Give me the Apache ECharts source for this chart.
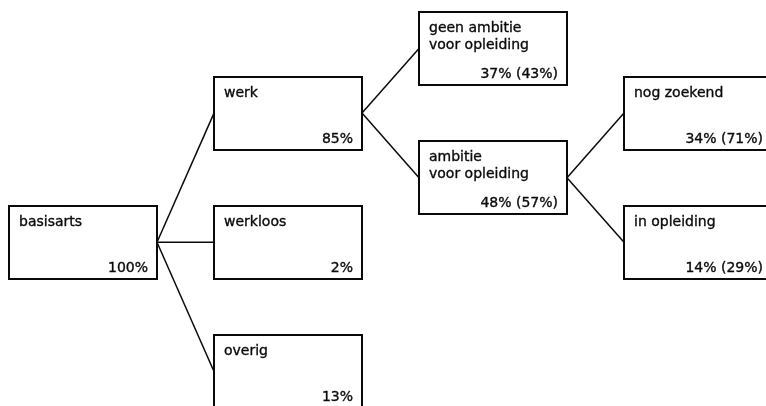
<!DOCTYPE html>
<html>
<head>
<meta charset="utf-8">
<script src="https://cdn.jsdelivr.net/npm/echarts@6/dist/echarts.min.js"></script>
<style>
html,body{margin:0;padding:0;background:#fff;}
#chart{width:766px;height:406px;}
</style>
</head>
<body>
<div id="chart"></div>
<script>
// Tree nodes
const nodeNames = ['basisarts', 'werk', 'werkloos', 'overig',
  'geen ambitie\nvoor opleiding', 'ambitie\nvoor opleiding', 'nog zoekend', 'in opleiding'];
const nodeShares = ['100%', '85%', '2%', '13%', '37% (43%)', '48% (57%)', '34% (71%)', '14% (29%)'];
const nodeParents = [-1, 0, 0, 0, 1, 1, 5, 5];
// vertical slot of each node (category rows of the diagram)
const nodeRows = [3, 1, 3, 5, 0, 2, 1, 3];

function depth(i) { return nodeParents[i] < 0 ? 0 : depth(nodeParents[i]) + 1; }
const nodeLevels = nodeNames.map((_, i) => depth(i));

const boxData = nodeNames.map((n, i) => [nodeLevels[i], nodeRows[i], i]);
const edgeData = [];
nodeParents.forEach((p, i) => {
  if (p >= 0) edgeData.push([nodeLevels[p], nodeRows[p], nodeLevels[i], nodeRows[i]]);
});

const BW = 148, BH = 73;
const INK = '#0a0a0a';
const FONT = '"DejaVu Sans", sans-serif';

const chart = echarts.init(document.getElementById('chart'), null, {renderer: 'canvas'});
chart.setOption({
  backgroundColor: '#fff',
  animation: false,
  grid: {left: 83, right: 68, top: 48.5, bottom: 34.5},
  xAxis: {type: 'value', min: 0, max: 3, show: false},
  yAxis: {type: 'value', min: 0, max: 5, inverse: true, show: false},
  series: [
    {
      type: 'custom',
      clip: false,
      data: edgeData,
      renderItem: function (params, api) {
        const a = api.coord([api.value(0), api.value(1)]);
        const b = api.coord([api.value(2), api.value(3)]);
        return {
          type: 'line',
          shape: {x1: a[0] + BW / 2, y1: a[1], x2: b[0] - BW / 2, y2: b[1]},
          style: {stroke: INK, lineWidth: 1.5}
        };
      }
    },
    {
      type: 'custom',
      clip: false,
      data: boxData,
      renderItem: function (params, api) {
        const c = api.coord([api.value(0), api.value(1)]);
        const i = api.value(2);
        const x = Math.round(c[0] - BW / 2), y = Math.round(c[1] - BH / 2);
        return {
          type: 'group',
          children: [
            {type: 'rect', shape: {x: x, y: y, width: BW, height: BH},
              style: {fill: '#fff', stroke: INK, lineWidth: 2}},
            {type: 'text', x: x + 10, y: y + 8,
              style: {text: nodeNames[i], fill: INK, font: '14px ' + FONT,
                stroke: INK, lineWidth: 0.35,
                lineHeight: 17, align: 'left', verticalAlign: 'top'}},
            {type: 'text', x: x + BW - 9, y: y + BH - 4,
              style: {text: nodeShares[i], fill: INK, font: '14px ' + FONT,
                stroke: INK, lineWidth: 0.35,
                align: 'right', verticalAlign: 'bottom'}}
          ]
        };
      }
    }
  ]
});
</script>
</body>
</html>
